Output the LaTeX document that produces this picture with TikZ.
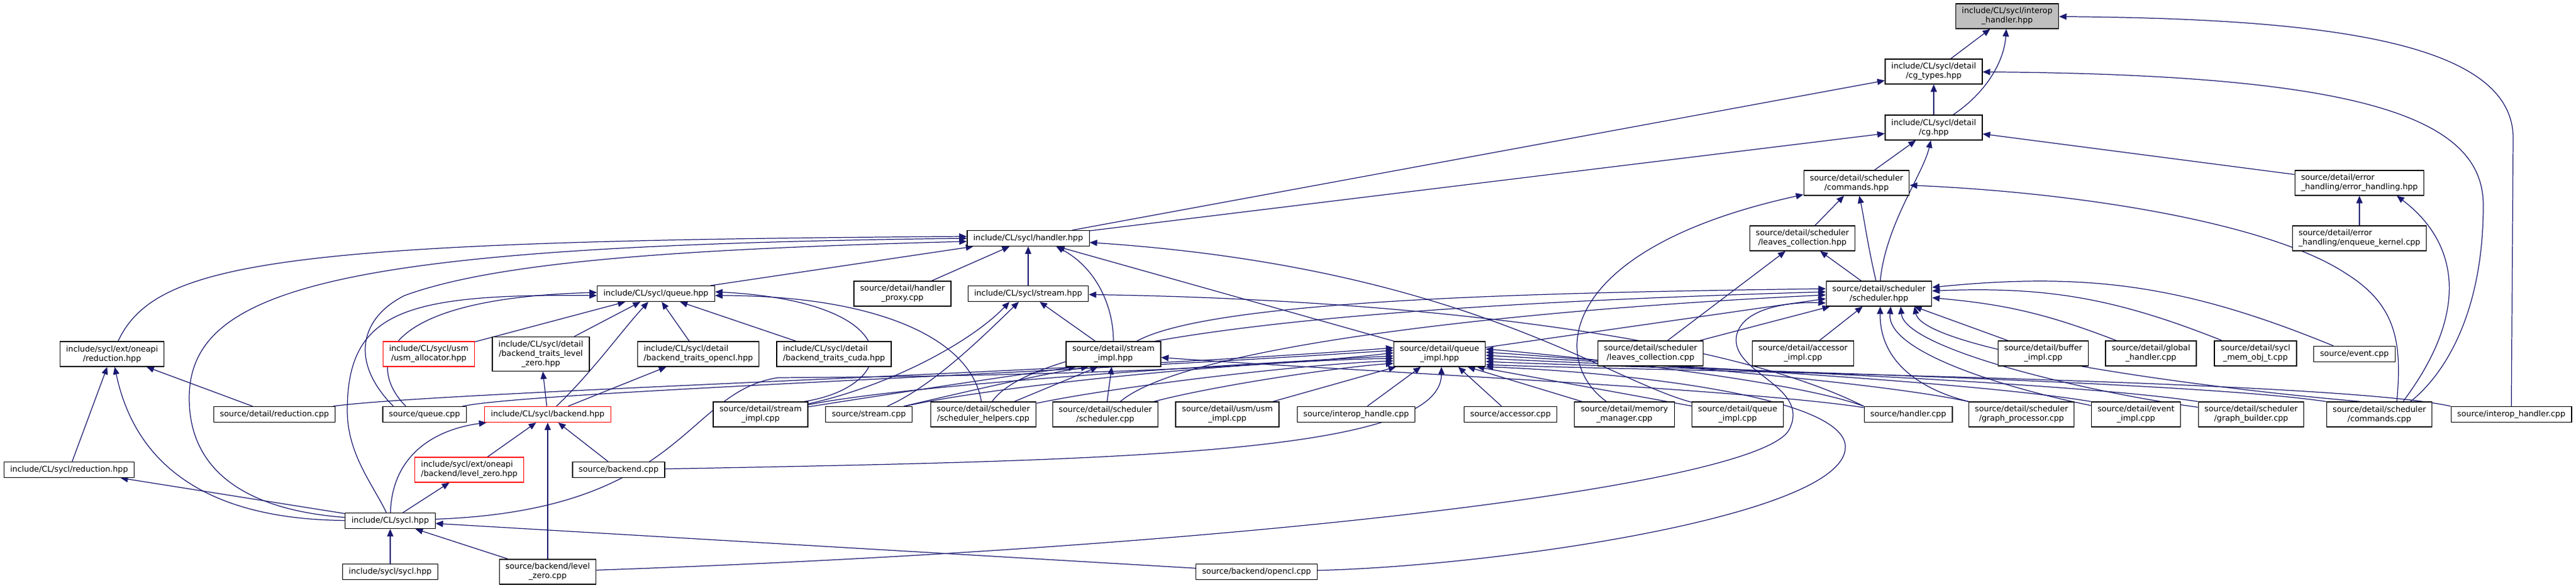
\documentclass[tikz,border=0pt]{standalone}
\usepackage{fontspec}
\setmainfont{DejaVu Sans}
\usepackage{tikz}
\usetikzlibrary{arrows.meta, backgrounds, positioning}
\definecolor{edgeblue}{HTML}{191970}
\tikzset{>={Triangle[length=1.2mm,width=1.0mm]}}
\newcommand{\dxfont}{\fontsize{3.64}{4.27}\selectfont}

\begin{document}
\begin{tikzpicture}[
    incl/.style={draw,fill=white,line width=0.35pt,inner xsep=0.1cm,inner ysep=0pt,minimum height=0.25cm,align=center,font=\dxfont},
    two/.style={minimum height=0.4cm},
    three/.style={minimum height=0.55cm},
    missing/.style={draw=red},
    root/.style={fill=gray!50},
    dep/.style={->,draw=edgeblue,line width=0.35pt}]
            \useasboundingbox (0,0) rectangle (41.39,-9.45);

            % headers and sources
            \node[incl,two,root] (interop) at (32.25,-0.26) {include/CL/sycl/interop\\\_handler.hpp};
            \node[incl,two] (cgtypes) at (31.07,-1.15) {include/CL/sycl/detail\\/cg\_types.hpp};
            \node[incl,two] (cg) at (31.07,-2.05) {include/CL/sycl/detail\\/cg.hpp};
            \node[incl,two] (cmdhpp) at (29.83,-2.94) {source/detail/scheduler\\/commands.hpp};
            \node[incl,two,align=left] (errhpp) at (37.91,-2.94) {source/detail/error\\\_handling/error\_handling.hpp};
            \node[incl] (handlerhpp) at (16.52,-3.83) {include/CL/sycl/handler.hpp};
            \node[incl,two] (leaveshpp) at (28.96,-3.83) {source/detail/scheduler\\/leaves\_collection.hpp};
            \node[incl,two,align=left] (enqueue) at (37.91,-3.83) {source/detail/error\\\_handling/enqueue\_kernel.cpp};
            \node[incl] (queuehpp) at (10.54,-4.72) {include/CL/sycl/queue.hpp};
            \node[incl,two] (proxy) at (14.50,-4.72) {source/detail/handler\\\_proxy.cpp};
            \node[incl] (streamhpp) at (16.52,-4.72) {include/CL/sycl/stream.hpp};
            \node[incl,two] (schedhpp) at (30.19,-4.72) {source/detail/scheduler\\/scheduler.hpp};
            \node[incl,two] (redext) at (1.80,-5.69) {include/sycl/ext/oneapi\\/reduction.hpp};
            \node[incl,two,missing] (usmalloc) at (6.89,-5.69) {include/CL/sycl/usm\\/usm\_allocator.hpp};
            \node[incl,three] (btlz) at (8.69,-5.69) {include/CL/sycl/detail\\/backend\_traits\_level\\\_zero.hpp};
            \node[incl,two,align=left] (btocl) at (11.22,-5.69) {include/CL/sycl/detail\\/backend\_traits\_opencl.hpp};
            \node[incl,two,align=left] (btcuda) at (13.40,-5.69) {include/CL/sycl/detail\\/backend\_traits\_cuda.hpp};
            \node[incl,two] (streamimplhpp) at (17.89,-5.69) {source/detail/stream\\\_impl.hpp};
            \node[incl,two] (queueimplhpp) at (23.13,-5.69) {source/detail/queue\\\_impl.hpp};
            \node[incl,two] (leavescpp) at (26.52,-5.68) {source/detail/scheduler\\/leaves\_collection.cpp};
            \node[incl,two] (accimpl) at (28.97,-5.68) {source/detail/accessor\\\_impl.cpp};
            \node[incl,two] (bufimpl) at (32.83,-5.68) {source/detail/buffer\\\_impl.cpp};
            \node[incl,two] (globalh) at (34.56,-5.68) {source/detail/global\\\_handler.cpp};
            \node[incl,two] (memobj) at (36.24,-5.68) {source/detail/sycl\\\_mem\_obj\_t.cpp};
            \node[incl] (eventcpp) at (37.83,-5.69) {source/event.cpp};
            \node[incl] (redcpp) at (4.41,-6.66) {source/detail/reduction.cpp};
            \node[incl] (queuecpp) at (6.82,-6.66) {source/queue.cpp};
            \node[incl,missing] (backendhpp) at (8.80,-6.66) {include/CL/sycl/backend.hpp};
            \node[incl,two] (streamimplcpp) at (12.22,-6.66) {source/detail/stream\\\_impl.cpp};
            \node[incl] (streamcpp) at (13.96,-6.66) {source/stream.cpp};
            \node[incl,two] (schedhelp) at (15.80,-6.66) {source/detail/scheduler\\/scheduler\_helpers.cpp};
            \node[incl,two] (schedcpp) at (17.76,-6.66) {source/detail/scheduler\\/scheduler.cpp};
            \node[incl,two] (usmimpl) at (19.72,-6.66) {source/detail/usm/usm\\\_impl.cpp};
            \node[incl] (interophandle) at (21.79,-6.66) {source/interop\_handle.cpp};
            \node[incl] (accessorcpp) at (24.27,-6.66) {source/accessor.cpp};
            \node[incl,two] (memmgr) at (26.10,-6.66) {source/detail/memory\\\_manager.cpp};
            \node[incl,two] (qimplcpp) at (27.92,-6.66) {source/detail/queue\\\_impl.cpp};
            \node[incl] (handlercpp) at (30.66,-6.66) {source/handler.cpp};
            \node[incl,two] (graphproc) at (32.48,-6.66) {source/detail/scheduler\\/graph\_processor.cpp};
            \node[incl,two] (eventimpl) at (34.32,-6.66) {source/detail/event\\\_impl.cpp};
            \node[incl,two] (graphbuild) at (36.17,-6.66) {source/detail/scheduler\\/graph\_builder.cpp};
            \node[incl,two] (cmdcpp) at (38.23,-6.66) {source/detail/scheduler\\/commands.cpp};
            \node[incl] (interopcpp) at (40.35,-6.66) {source/interop\_handler.cpp};
            \node[incl] (redcl) at (1.11,-7.55) {include/CL/sycl/reduction.hpp};
            \node[incl,two,missing,align=left] (lzhpp) at (7.54,-7.55) {include/sycl/ext/oneapi\\/backend/level\_zero.hpp};
            \node[incl] (backendcpp) at (9.94,-7.55) {source/backend.cpp};
            \node[incl] (syclhpp) at (6.27,-8.37) {include/CL/sycl.hpp};
            \node[incl] (syclsycl) at (6.27,-9.19) {include/sycl/sycl.hpp};
            \node[incl,two] (lzcpp) at (8.80,-9.19) {source/backend/level\\\_zero.cpp};
            \node[incl] (openclcpp) at (20.19,-9.19) {source/backend/opencl.cpp};

            \begin{scope}[on background layer]
            % top part
            \draw[dep] (cgtypes) -- (interop);
            \draw[dep] (cg) .. controls (31.9,-1.5) and (32.2,-1.0) .. (interop);
            \draw[dep] (interopcpp) -- (40.38,-2.2) .. controls (40.35,-0.7) and (37.5,-0.3) .. (interop);
            \draw[dep] (cg) -- (cgtypes);
            \draw[dep] (handlerhpp) -- (cgtypes);
            \draw[dep] ([xshift=0.5cm]cmdcpp.north) .. controls (39.3,-6.0) and (39.9,-5.0) .. (39.9,-3.3) .. controls (39.9,-1.9) and (38.0,-1.2) .. (cgtypes);
            \draw[dep] (handlerhpp) -- (cg);
            \draw[dep] (cmdhpp) -- (cg);
            \draw[dep] (schedhpp) .. controls (30.3,-3.6) and (30.9,-2.8) .. (cg);
            \draw[dep] (errhpp) -- (cg);
            \draw[dep] (leaveshpp) -- (cmdhpp);
            \draw[dep] (schedhpp) .. controls (30.0,-3.9) and (29.95,-3.5) .. (cmdhpp);
            \draw[dep] ([xshift=0.28cm]cmdcpp.north) .. controls (38.6,-5.5) and (38.5,-4.9) .. (37.7,-4.4) .. controls (36.5,-3.6) and (33.5,-3.1) .. (cmdhpp);
            \draw[dep] (memmgr) .. controls (24.9,-5.8) and (25.0,-4.0) .. (cmdhpp);
            \draw[dep] (enqueue) -- (errhpp);
            \draw[dep] ([xshift=0.38cm]cmdcpp.north) .. controls (39.7,-5.0) and (39.5,-3.9) .. ([xshift=0.6cm]errhpp.south);

            % scheduler
            \draw[dep] (schedhpp) -- (leaveshpp);
            \draw[dep] (leavescpp) -- (leaveshpp);
            \draw[dep] (leavescpp) -- (schedhpp);
            \draw[dep] (accimpl) -- (schedhpp);
            \draw[dep] (bufimpl) -- (schedhpp);
            \draw[dep] (globalh) to[bend right=8] (schedhpp);
            \draw[dep] (memobj) to[bend right=12] (schedhpp);
            \draw[dep] (eventcpp) to[bend right=14] (schedhpp);
            \draw[dep] (graphproc) .. controls (31.0,-6.3) and (30.2,-5.9) .. ([xshift=0.02cm]schedhpp.south);
            \draw[dep] (eventimpl) .. controls (32.5,-6.3) and (30.3,-5.7) .. ([xshift=0.19cm]schedhpp.south);
            \draw[dep] (graphbuild) .. controls (33.5,-6.3) and (30.6,-5.6) .. ([xshift=0.35cm]schedhpp.south);
            \draw[dep] ([xshift=-0.3cm]cmdcpp.north) .. controls (35.0,-6.2) and (30.9,-5.6) .. ([xshift=0.57cm]schedhpp.south);
            \draw[dep] (queueimplhpp) -- ([yshift=-0.08cm]schedhpp.west);
            \draw[dep] (streamimplhpp) .. controls (19.5,-4.8) and (25.0,-4.7) .. ([yshift=0.08cm]schedhpp.west);
            \draw[dep] (schedhelp) .. controls (16.8,-5.2) and (24.0,-4.85) .. ([yshift=0.03cm]schedhpp.west);
            \draw[dep] (schedcpp) .. controls (19.0,-5.6) and (24.0,-5.0) .. ([yshift=-0.02cm]schedhpp.west);
            \draw[dep] (lzcpp) .. controls (20.0,-8.8) and (28.3,-7.8) .. (28.75,-6.9) .. controls (29.1,-6.2) and (27.8,-6.0) .. (27.9,-5.4) .. controls (28.0,-4.9) and (28.9,-4.85) .. ([yshift=-0.15cm]schedhpp.west);

            % handler.hpp
            \draw[dep] (queuehpp) -- (handlerhpp);
            \draw[dep] (redext) .. controls (2.5,-4.2) and (4.5,-3.87) .. ([yshift=0.03cm]handlerhpp.west);
            \draw[dep] (syclhpp) .. controls (4.0,-8.2) and (3.04,-7.6) .. (3.04,-6.4) .. controls (3.04,-4.6) and (5.5,-3.95) .. (handlerhpp.west);
            \draw[dep] ([xshift=-0.5cm]queuecpp.north) .. controls (5.6,-5.8) and (5.8,-5.1) .. (6.5,-4.75) .. controls (8.0,-4.2) and (11.0,-4.0) .. ([yshift=-0.05cm]handlerhpp.west);
            \draw[dep] (proxy) -- (handlerhpp);
            \draw[dep] (streamhpp) -- (handlerhpp);
            \draw[dep] (streamimplhpp) .. controls (17.89,-4.9) and (17.6,-4.3) .. ([xshift=0.45cm]handlerhpp.south);
            \draw[dep] (queueimplhpp) -- (handlerhpp);
            \draw[dep] (qimplcpp) .. controls (25.8,-6.1) and (23.5,-4.3) .. (handlerhpp);

            % stream
            \draw[dep] (streamimplhpp) -- (streamhpp);
            \draw[dep] (streamimplcpp) .. controls (14.3,-6.2) and (15.6,-5.5) .. ([xshift=-0.3cm]streamhpp.south);
            \draw[dep] (streamcpp) .. controls (15.0,-6.2) and (15.8,-5.4) .. ([xshift=-0.15cm]streamhpp.south);
            \draw[dep] (handlercpp.north west) .. controls (27.5,-5.3) and (22.0,-4.8) .. (streamhpp);
            \draw[dep] (streamimplcpp) .. controls (14.5,-6.3) and (16.5,-6.0) .. ([xshift=-0.6cm]streamimplhpp.south);
            \draw[dep] (streamcpp) .. controls (15.5,-6.3) and (16.8,-6.0) .. ([xshift=-0.4cm]streamimplhpp.south);
            \draw[dep] (schedhelp) -- ([xshift=-0.25cm]streamimplhpp.south);
            \draw[dep] (schedcpp) -- (streamimplhpp);
            \draw[dep] (handlercpp) .. controls (28.0,-6.25) and (21.5,-5.95) .. (streamimplhpp);

            % queue_impl.hpp
            \draw[dep] (redcpp) .. controls (7.0,-6.3) and (17.0,-6.0) .. ([yshift=0.1cm]queueimplhpp.west);
            \draw[dep] (queuecpp) .. controls (8.5,-6.3) and (17.0,-6.0) .. ([yshift=0.06cm]queueimplhpp.west);
            \draw[dep] (syclhpp) .. controls (11.0,-8.2) and (11.0,-6.3) .. (12.5,-6.07) .. controls (16.0,-6.05) and (20.0,-5.95) .. ([yshift=0.02cm]queueimplhpp.west);
            \draw[dep] (streamimplcpp) .. controls (14.5,-6.2) and (19.0,-5.9) .. ([yshift=-0.03cm]queueimplhpp.west);
            \draw[dep] (streamcpp) .. controls (16.0,-6.2) and (20.0,-5.8) .. ([yshift=-0.07cm]queueimplhpp.west);
            \draw[dep] (schedhelp) .. controls (18.0,-6.2) and (21.0,-5.85) .. ([yshift=-0.11cm]queueimplhpp.west);
            \draw[dep] (schedcpp) .. controls (19.5,-6.2) and (21.5,-5.9) .. ([yshift=-0.15cm]queueimplhpp.west);
            \draw[dep] (usmimpl) -- ([xshift=-0.7cm]queueimplhpp.south);
            \draw[dep] (interophandle) -- ([xshift=-0.3cm]queueimplhpp.south);
            \draw[dep] (backendcpp) .. controls (18.0,-7.4) and (23.16,-7.3) .. ([xshift=0.03cm]queueimplhpp.south);
            \draw[dep] (accessorcpp) -- ([xshift=0.3cm]queueimplhpp.south);
            \draw[dep] (memmgr) -- ([xshift=0.45cm]queueimplhpp.south);
            \draw[dep] (qimplcpp) -- ([xshift=0.6cm]queueimplhpp.south);
            \draw[dep] (handlercpp.north west) .. controls (28.8,-6.1) and (25.0,-5.7) .. ([yshift=0.08cm]queueimplhpp.east);
            \draw[dep] (graphproc.north west) .. controls (30.0,-6.1) and (25.2,-5.75) .. ([yshift=0.03cm]queueimplhpp.east);
            \draw[dep] (eventimpl.north west) .. controls (31.5,-6.1) and (25.4,-5.8) .. ([yshift=-0.02cm]queueimplhpp.east);
            \draw[dep] (graphbuild.north west) .. controls (33.0,-6.1) and (25.6,-5.85) .. ([yshift=-0.07cm]queueimplhpp.east);
            \draw[dep] (cmdcpp.north west) .. controls (35.0,-6.1) and (25.8,-5.9) .. ([yshift=-0.12cm]queueimplhpp.east);
            \draw[dep] (interopcpp.north west) .. controls (37.5,-6.1) and (26.0,-5.95) .. ([yshift=-0.17cm]queueimplhpp.east);
            \draw[dep] (openclcpp) .. controls (24.0,-9.1) and (29.6,-8.3) .. (29.65,-7.2) .. controls (29.7,-6.3) and (25.5,-5.95) .. (queueimplhpp.south east);

            % queue.hpp
            \draw[dep] (usmalloc) -- (queuehpp);
            \draw[dep] (btlz) -- (queuehpp);
            \draw[dep] (backendhpp) .. controls (9.5,-6.0) and (10.0,-5.3) .. (queuehpp);
            \draw[dep] (btocl) -- (queuehpp);
            \draw[dep] (btcuda) -- (queuehpp);
            \draw[dep] (syclhpp) .. controls (6.0,-7.8) and (5.58,-7.3) .. (5.58,-6.6) .. controls (5.58,-5.0) and (6.5,-4.72) .. ([yshift=-0.03cm]queuehpp.west);
            \draw[dep] ([xshift=-0.3cm]queuecpp.north) .. controls (5.9,-5.9) and (6.0,-4.8) .. ([yshift=0.02cm]queuehpp.west);
            \draw[dep] (schedhelp) .. controls (15.6,-5.4) and (14.0,-4.75) .. ([yshift=-0.03cm]queuehpp.east);
            \draw[dep] ([xshift=0.7cm]streamimplcpp.north) .. controls (14.5,-6.2) and (14.6,-4.85) .. ([yshift=0.03cm]queuehpp.east);

            % sycl.hpp and backend
            \draw[dep] (redcpp) -- (redext);
            \draw[dep] (redcl) -- (redext);
            \draw[dep] (syclhpp) .. controls (3.5,-8.35) and (2.2,-7.6) .. (redext);
            \draw[dep] (syclhpp) -- (redcl);
            \draw[dep] (syclsycl) -- (syclhpp);
            \draw[dep] (lzcpp) -- (syclhpp);
            \draw[dep] (openclcpp) -- (syclhpp);
            \draw[dep] (syclhpp) -- (lzhpp);
            \draw[dep] (syclhpp) .. controls (6.3,-7.3) and (7.0,-6.9) .. (backendhpp);
            \draw[dep] (lzhpp) -- (backendhpp);
            \draw[dep] (lzcpp) -- (backendhpp);
            \draw[dep] (backendcpp) -- (backendhpp);
            \draw[dep] (backendhpp) -- (btlz);
            \draw[dep] (backendhpp) -- (btocl);
            \end{scope}
    \end{tikzpicture}
\end{document}
